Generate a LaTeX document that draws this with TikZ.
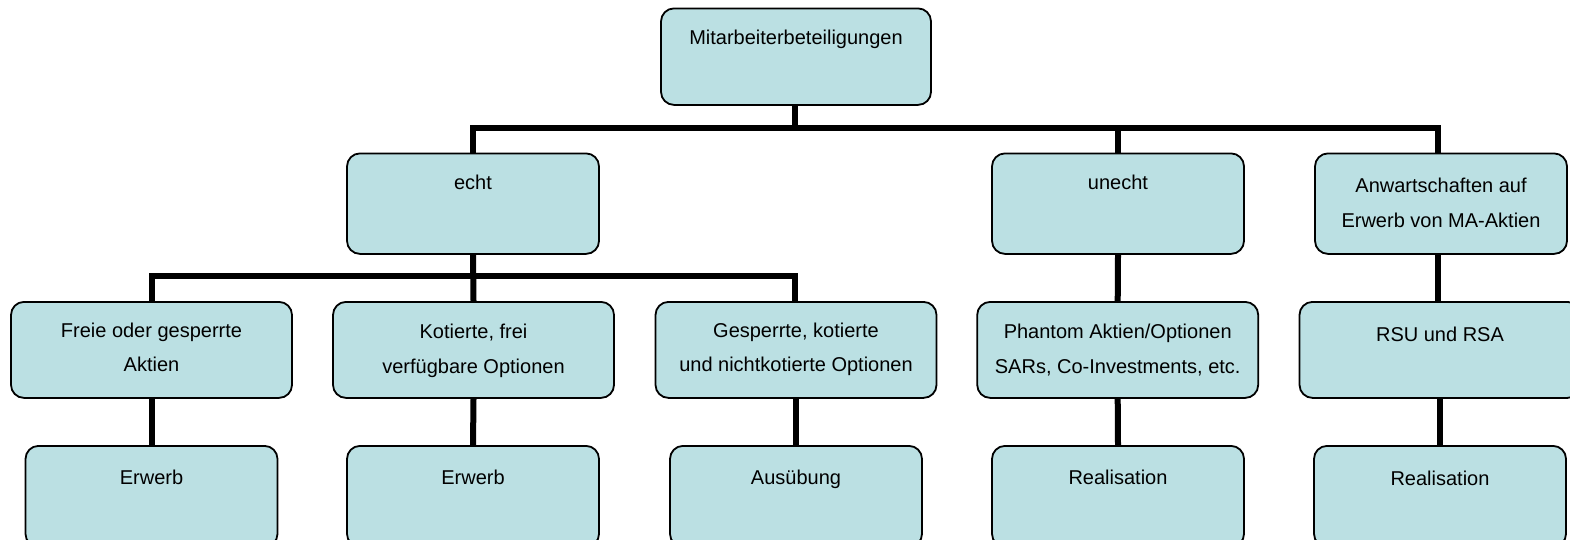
\documentclass[tikz,border=0pt]{standalone}
\usepackage{fontspec}
\setmainfont{Liberation Sans}
\usetikzlibrary{backgrounds}
\definecolor{boxfill}{RGB}{187,224,227}
\begin{document}
\begin{tikzpicture}[x=1pt,y=-1pt,
  box/.style={draw=black, line width=1.8pt, fill=boxfill, rounded corners=13pt, inner sep=0pt, anchor=north},
  topbox/.style={box, minimum width=270pt, minimum height=96.5pt},
  midbox/.style={box, minimum width=252pt, minimum height=100.5pt},
  widebox/.style={box, minimum width=281pt, minimum height=96pt},
  lowbox/.style={box, minimum width=252pt, minimum height=101pt},
  lbl/.style={anchor=base, inner sep=0pt, font=\fontsize{20}{34.4}\selectfont, align=center},
  link/.style={line width=6pt, draw=black}]
\clip (0,0) rectangle (1570,539);
% boxes
\node[topbox] (mb) at (796,7.5) {};
\node[midbox] (echt) at (473,152.5) {};
\node[midbox] (unecht) at (1118,152.5) {};
\node[midbox] (anw) at (1441,152.5) {};
\node[widebox] (frei) at (151.5,301) {};
\node[widebox] (kot) at (473.5,301) {};
\node[widebox] (gesp) at (796,301) {};
\node[widebox] (phan) at (1117.7,301) {};
\node[widebox] (rsu) at (1440,301) {};
\node[lowbox] (erw1) at (151.5,445) {};
\node[lowbox] (erw2) at (473,445) {};
\node[lowbox] (aus) at (796,445) {};
\node[lowbox] (real1) at (1118,445) {};
\node[lowbox] (real2) at (1440,445) {};
% texts (base anchor = baseline of the last line)
\node[lbl] (tmb) at (796,44) {Mitarbeiterbeteiligungen};
\node[lbl] (techt) at (473,189.3) {echt};
\node[lbl] (tunecht) at (1118,189.3) {unecht};
\node[lbl] (tanw) at (1441,227.3) {Anwartschaften auf\\Erwerb von MA-Aktien};
\node[lbl] (tfrei) at (151.5,371.7) {Freie oder gesperrte\\Aktien};
\node[lbl] (tkot) at (473.5,373.3) {Kotierte, frei\\verfügbare Optionen};
\node[lbl] (tgesp) at (796,371.7) {Gesperrte, kotierte\\und nichtkotierte Optionen};
\node[lbl] (tphan) at (1117.7,373.3) {Phantom Aktien/Optionen\\SARs, Co-Investments, etc.};
\node[lbl] (trsu) at (1440,341) {RSU und RSA};
\node[lbl] (terw1) at (151.5,484) {Erwerb};
\node[lbl] (terw2) at (473,484) {Erwerb};
\node[lbl] (taus) at (796,484) {Ausübung};
\node[lbl] (treal1) at (1118,484) {Realisation};
\node[lbl] (treal2) at (1440,485.7) {Realisation};
% connectors
\coordinate (bus1) at (795,127.5);
\coordinate (bus2) at (473,275.5);
\begin{pgfonlayer}{background}
\draw[link] ([xshift=-1pt]mb.south) -- (bus1);
\draw[link] (echt.north) |- (bus1);
\draw[link] (unecht.north) |- (bus1);
\draw[link] ([xshift=-3pt]anw.north) |- (bus1);
\draw[link] (echt.south) -- (kot.north);
\draw[link] (frei.north) |- (bus2);
\draw[link] ([xshift=-1pt]gesp.north) |- (bus2);
\draw[link] (unecht.south) -- (phan.north);
\draw[link] ([xshift=-3pt]anw.south) -- ([xshift=-2pt]rsu.north);
\draw[link] (frei.south) -- (erw1.north);
\draw[link] (kot.south) -- (erw2.north);
\draw[link] (gesp.south) -- (aus.north);
\draw[link] (phan.south) -- (real1.north);
\draw[link] (rsu.south) -- (real2.north);
\end{pgfonlayer}
\end{tikzpicture}
\end{document}
